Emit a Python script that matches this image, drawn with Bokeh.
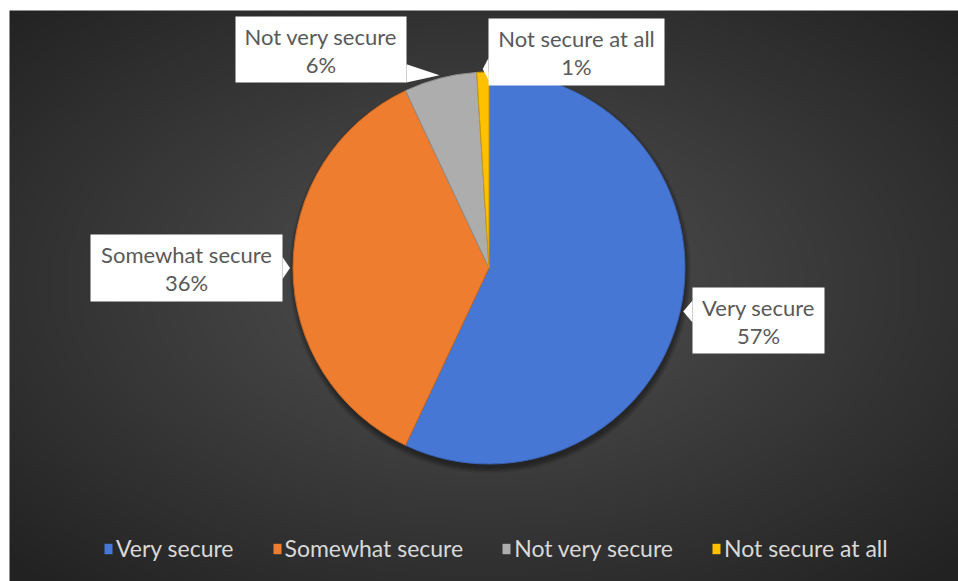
import numpy as np
from bokeh.plotting import figure
from bokeh.models import Range1d, Legend, LegendItem, ColumnDataSource
from bokeh.core.properties import value
from bokeh.embed import file_html
from bokeh.resources import INLINE

# ---------------- data ----------------
categories = ["Very secure", "Somewhat secure", "Not very secure", "Not secure at all"]
values = [57, 36, 6, 1]
colors = ["#4777d5", "#ef7d2f", "#adadad", "#ffc000"]
edge_colors = ["#3a62b4", "#c9671f", "#8e8e8e", "#c99800"]

# ---------------- layout (page px) ----------------
W, H = 958, 581
def fx(px): return px
def fy(py): return H - py

CX, CY, R = fx(488.5), fy(267.5), 196
# callout boxes (left, top, right, bottom) in page px
label_boxes = [(692, 287, 824, 353), (90, 234, 282, 301), (235, 16, 406, 82), (488, 18, 664, 85)]
BG_L, BG_T = 9, 10

p = figure(width=W, height=H, output_backend="svg", toolbar_location=None,
           x_range=Range1d(0, W), y_range=Range1d(0, H), min_border=0)
p.axis.visible = False
p.grid.visible = False
p.outline_line_color = None
p.background_fill_color = "white"
p.border_fill_color = "white"

# radial gradient background
bw_, bh_ = W - BG_L, H - BG_T
gh, gw = bh_ // 2 + 1, bw_ // 2 + 1
yy, xx = np.mgrid[0:gh, 0:gw].astype(float)
nx = (xx / (gw - 1) - 0.5) * 2
ny = (yy / (gh - 1) - 0.52) * 2
t = np.clip(np.sqrt(nx ** 2 + ny ** 2) / 1.414, 0, 1)
c0, c1 = np.array([82, 82, 82]), np.array([34, 34, 34])
rgb = (c0[None, None, :] * (1 - t[..., None]) + c1[None, None, :] * t[..., None]).astype(np.uint32)
img = (255 << 24) | (rgb[..., 2] << 16) | (rgb[..., 1] << 8) | rgb[..., 0]
p.image_rgba(image=[img.astype(np.uint32)], x=BG_L, y=0, dw=bw_, dh=bh_)

# shadow
for k in range(6):
    p.circle(x=CX + 1, y=CY - 4, radius=R + k, fill_color="black", fill_alpha=0.07, line_color=None)

# pie
total = sum(values)
fr = np.array(values) / total
cum = np.concatenate([[0], np.cumsum(fr)])
start = np.pi / 2 - cum[:-1] * 2 * np.pi
end = np.pi / 2 - cum[1:] * 2 * np.pi
src = ColumnDataSource(dict(start=start, end=end, color=colors, edge=edge_colors))
p.wedge(x=CX, y=CY, radius=R, start_angle="start", end_angle="end", direction="clock",
        fill_color="color", line_color="edge", line_width=1, source=src)

# callouts
mid = (start + end) / 2
bx, by, bw, bh, t1y, t2y, pxs, pys = [], [], [], [], [], [], [], []
for i, (l, tp, r_, b) in enumerate(label_boxes):
    L, T, Rr, B = fx(l), fy(tp), fx(r_), fy(b)
    bx.append((L + Rr) / 2); by.append((T + B) / 2); bw.append(Rr - L); bh.append(T - B)
    t1y.append(T - 20); t2y.append(T - 48)
    ax = CX + (R + 3) * np.cos(mid[i]); ay = CY + (R + 3) * np.sin(mid[i])
    if ax < L or ax > Rr:
        ex = L if ax < L else Rr
        ey = min(max(ay, B), T)
        y0, y1 = max(ey - 11, B), min(ey + 11, T)
        pxs.append([ex, ax, ex]); pys.append([y1, ay, y0])
    else:
        ey = T if ay > T else B
        ex = min(max(ax, L), Rr)
        x0, x1 = max(ex - 11, L), min(ex + 11, Rr)
        pxs.append([x0, ax, x1]); pys.append([ey, ay, ey])

p.patches(xs=pxs, ys=pys, fill_color="white", line_color=None)
p.rect(x=bx, y=by, width=bw, height=bh, fill_color="white", line_color=None)
p.text(x=bx, y=t1y, text=categories, text_align="center", text_baseline="middle",
       text_font=value("Lato"), text_font_size=value("22px"), text_color="#595959")
p.text(x=bx, y=t2y, text=[f"{v}%" for v in values], text_align="center", text_baseline="middle",
       text_font=value("Lato"), text_font_size=value("22px"), text_color="#595959")

# legend (glyphs placed off-screen so only the legend swatches show)
items = []
for c, col in zip(categories, colors):
    rr = p.quad(left=[-50], right=[-40], top=[-40], bottom=[-50], fill_color=col, line_color=None)
    items.append(LegendItem(label=c, renderers=[rr]))
legend = Legend(items=items, orientation="horizontal", location=(103, 19), margin=0, padding=0,
                spacing=38, label_standoff=3, glyph_width=10, glyph_height=13,
                background_fill_alpha=0, border_line_color=None,
                label_text_font="Lato", label_text_font_size="23px", label_text_color="#d9d9d9")
p.add_layout(legend, "center")

open("out.html", "w").write(file_html(p, INLINE))
